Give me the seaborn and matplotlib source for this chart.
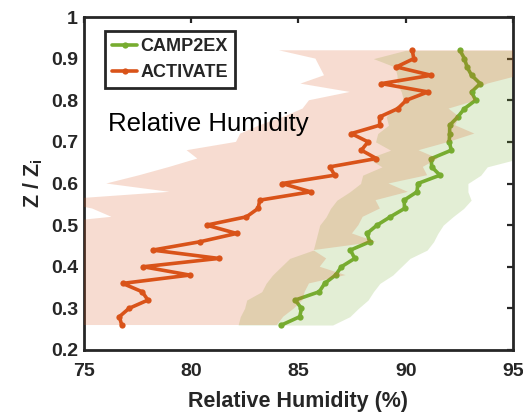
import numpy as np
import pandas as pd
import matplotlib
matplotlib.use("Agg")
import matplotlib.pyplot as plt
import seaborn as sns

# ---------------- data ----------------
z_levels = [0.26, 0.28, 0.30, 0.32, 0.34, 0.36, 0.38, 0.40, 0.42, 0.44, 0.46, 0.48,
            0.50, 0.52, 0.54, 0.56, 0.58, 0.60, 0.62, 0.64, 0.66, 0.68, 0.70, 0.72,
            0.74, 0.76, 0.78, 0.80, 0.82, 0.84, 0.86, 0.88, 0.90, 0.92]

activate_rh = [76.78, 76.67, 77.12, 78.00, 77.73, 76.82, 79.95, 77.78, 81.30, 78.22,
               80.42, 82.13, 80.73, 82.59, 83.13, 83.21, 85.58, 84.25, 86.70, 86.47,
               88.64, 87.94, 88.25, 87.47, 88.79, 88.79, 89.64, 90.03, 91.04, 88.87,
               91.19, 89.57, 90.38, 90.31]
activate_lo = [72.0, 72.0, 72.0, 72.0, 72.0, 72.0, 72.0, 72.0, 72.0, 72.0, 72.0, 72.0,
               72.5, 76.3, 75.4, 73.5, 79.0, 76.06, 77.6, 79.0, 80.3, 79.8, 82.1, 82.3,
               83.2, 84.3, 85.2, 85.5, 87.4, 85.1, 86.2, 86.0, 85.8, 84.1]
activate_hi = [84.0, 84.3, 84.8, 85.2, 85.3, 85.5, 87.2, 86.0, 86.3, 85.7, 88.6, 87.5,
               87.8, 88.0, 88.8, 88.6, 90.1, 89.2, 91.0, 90.8, 91.5, 90.6, 92.0, 93.2,
               92.3, 92.5, 92.0, 93.3, 93.0, 93.8, 95.3, 96.5, 97.0, 97.0]

camp2ex_rh = [84.22, 85.07, 85.15, 84.86, 85.98, 86.23, 86.74, 87.01, 87.63, 87.43,
              88.33, 88.20, 88.67, 89.29, 89.95, 89.93, 90.53, 90.57, 91.60, 91.21,
              91.20, 92.13, 92.03, 92.05, 92.05, 92.43, 92.74, 93.26, 93.07, 93.47,
              93.07, 92.86, 92.74, 92.53]
camp2ex_lo = [82.2, 82.3, 82.5, 82.6, 83.3, 83.5, 83.8, 84.2, 84.6, 85.7, 85.8, 85.9,
              86.0, 86.3, 86.5, 86.8, 87.4, 87.9, 88.0, 88.9, 88.25, 89.3, 88.6, 88.7,
              89.2, 89.1, 89.4, 89.9, 89.8, 89.6, 89.6, 89.5, 88.5, 90.0]
camp2ex_hi = [86.6, 87.4, 87.8, 88.25, 88.5, 88.8, 89.4, 89.8, 90.2, 91.0, 91.3, 91.5,
              91.75, 92.2, 92.7, 93.05, 92.9, 92.9, 93.5, 93.8, 95.3, 96.0, 96.5, 96.5,
              96.5, 96.5, 96.5, 96.5, 96.5, 96.5, 96.5, 96.5, 96.5, 96.5]

x_ticks = [75, 80, 85, 90, 95]
y_ticks = [0.2, 0.3, 0.4, 0.5, 0.6, 0.7, 0.8, 0.9, 1.0]
y_tick_labels = ["0.2", "0.3", "0.4", "0.5", "0.6", "0.7", "0.8", "0.9", "1"]

c_act = "#D95319"
c_camp = "#77AC30"

# ---------------- style ----------------
sns.set_theme(style="white")
plt.rcParams["font.family"] = ["Liberation Sans", "DejaVu Sans"]
plt.rcParams["mathtext.fontset"] = "custom"
plt.rcParams["mathtext.rm"] = "Liberation Sans"
plt.rcParams["mathtext.bf"] = "Liberation Sans:bold"

fig = plt.figure(figsize=(5.23, 4.20), dpi=100)
ax = fig.add_axes([83.5 / 523, 1 - 350 / 420, 429.5 / 523, 333 / 420])

df_c = pd.DataFrame({"z": z_levels, "rh": camp2ex_rh})
df_a = pd.DataFrame({"z": z_levels, "rh": activate_rh})

# CAMP2EX band + line first, then ACTIVATE band + line on top
ax.fill_betweenx(z_levels, camp2ex_lo, camp2ex_hi, color=c_camp, alpha=0.2,
                 linewidth=0, zorder=1)
sns.lineplot(data=df_c, x="rh", y="z", orient="y", sort=False, estimator=None,
             color=c_camp, linewidth=2.6, marker="o", markersize=4.5,
             markeredgewidth=0, label="CAMP2EX", ax=ax, zorder=2)
ax.fill_betweenx(z_levels, activate_lo, activate_hi, color=c_act, alpha=0.2,
                 linewidth=0, zorder=3)
sns.lineplot(data=df_a, x="rh", y="z", orient="y", sort=False, estimator=None,
             color=c_act, linewidth=2.6, marker="o", markersize=4.5,
             markeredgewidth=0, label="ACTIVATE", ax=ax, zorder=4)

ax.set_xlim(75, 95)
ax.set_ylim(0.2, 1.0)
ax.set_xticks(x_ticks)
ax.set_xticklabels([str(t) for t in x_ticks])
ax.set_yticks(y_ticks)
ax.set_yticklabels(y_tick_labels)

for lab in ax.get_xticklabels() + ax.get_yticklabels():
    lab.set_fontweight("bold")
    lab.set_fontsize(14)
    lab.set_color("#262626")

ax.tick_params(axis="both", which="both", direction="in", length=4.5, width=1.6,
               top=True, right=True, color="#262626")
ax.tick_params(axis="x", pad=9)
ax.tick_params(axis="y", pad=4)
for sp in ax.spines.values():
    sp.set_linewidth(2.0)
    sp.set_color("#262626")
    sp.set_visible(True)

ax.set_xlabel("Relative Humidity (%)", fontsize=15.5, fontweight="bold",
              color="#262626", labelpad=8)
ax.set_ylabel(r"Z / Z$_\mathbf{i}$", fontsize=15.5, fontweight="bold",
              color="#262626", labelpad=4)

ax.text(0.057, 0.659, "Relative Humidity", transform=ax.transAxes,
        fontsize=18.5, va="baseline", ha="left", color="black", zorder=6)

leg = ax.legend(loc="upper left", bbox_to_anchor=(0.05, 0.958), borderaxespad=0,
                frameon=True, fancybox=False, framealpha=1, edgecolor="#262626",
                prop={"weight": "bold", "size": 13}, handlelength=1.4,
                handletextpad=0.15, labelspacing=0.5, borderpad=0.4)
leg.get_frame().set_linewidth(2.0)
leg.set_zorder(7)

fig.savefig("out.png", dpi=100)
